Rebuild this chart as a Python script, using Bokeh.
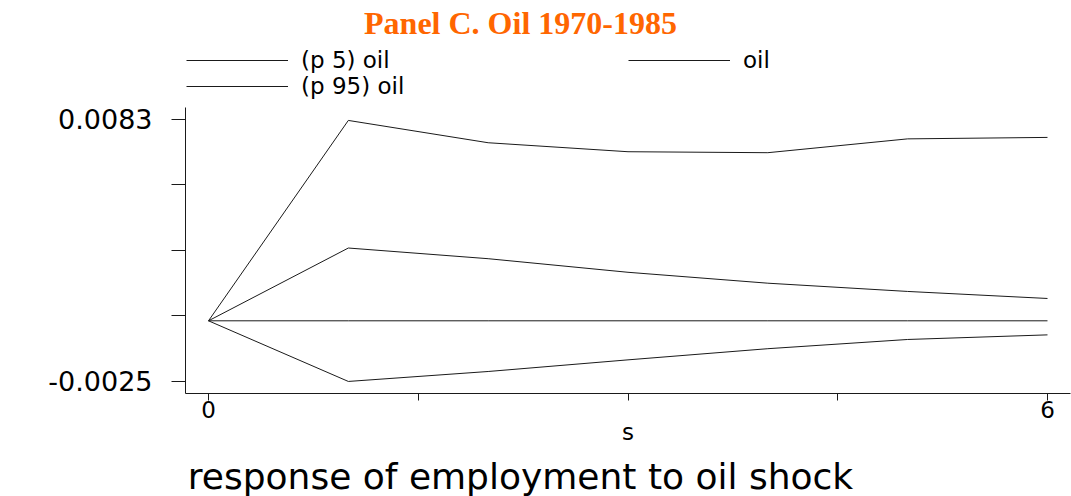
from bokeh.plotting import figure
from bokeh.layouts import column
from bokeh.models import (Label, Legend, LegendItem, FixedTicker, Range1d,
                          ColumnDataSource)
from bokeh.embed import file_html
from bokeh.resources import INLINE

# ---- data ----
steps = [0, 1, 2, 3, 4, 5, 6]
oil = [0.0, 0.00300, 0.00256, 0.00200, 0.00155, 0.00121, 0.00092]
p5_oil = [0.0, -0.00250, -0.00209, -0.00161, -0.00115, -0.00077, -0.00058]
p95_oil = [0.0, 0.00826, 0.00734, 0.00697, 0.00693, 0.00750, 0.00756]
zero_line = [0, 0, 0, 0, 0, 0, 0]

y_ticks = [-0.0025, 0.0002, 0.0029, 0.0056, 0.0083]
y_tick_labels = ["-0.0025", "", "", "", "0.0083"]
x_ticks = [0, 1.5, 3, 4.5, 6]
x_tick_labels = ["0", "", "", "", "6"]

series_labels = ["(p 5) oil", "(p 95) oil", "oil"]
title_text = "Panel C. Oil 1970-1985"
bottom_text = "response of employment to oil shock"
x_label = "s"

INK = "#1a1a1a"
SANS = "DejaVu Sans"
W = 1071


def bare(height):
    f = figure(width=W, height=height, output_backend="svg",
               toolbar_location=None, x_axis_type=None, y_axis_type=None,
               x_range=Range1d(0, 1), y_range=Range1d(0, 1),
               min_border_left=0, min_border_right=0,
               min_border_top=0, min_border_bottom=0)
    f.outline_line_color = None
    f.background_fill_color = "white"
    f.border_fill_color = "white"
    return f


# ---------------- main plot ----------------
src = ColumnDataSource(dict(step=steps, oil=oil, p5=p5_oil, p95=p95_oil,
                            zero=zero_line))

p = figure(width=W, height=353, output_backend="svg", toolbar_location=None,
           x_range=Range1d(-0.1645, 6.1645),
           y_range=Range1d(-0.002997, 0.008793),
           min_border_left=185, min_border_right=1,
           min_border_top=8, min_border_bottom=59)
p.grid.visible = False
p.outline_line_color = None
p.background_fill_color = "white"
p.border_fill_color = "white"

ya = p.yaxis[0]
ya.ticker = FixedTicker(ticks=y_ticks, minor_ticks=[])
ya.major_label_overrides = {t: l for t, l in zip(y_ticks, y_tick_labels)}
ya.major_tick_out = 14
ya.major_tick_in = 0
ya.minor_tick_out = 0
ya.minor_tick_in = 0
ya.major_label_standoff = 19
ya.major_label_text_font = SANS
ya.major_label_text_font_size = "27px"
ya.major_label_text_color = "black"
ya.axis_line_color = INK
ya.major_tick_line_color = INK

xa = p.xaxis[0]
xa.ticker = FixedTicker(ticks=x_ticks, minor_ticks=[])
xa.major_label_overrides = {t: l for t, l in zip(x_ticks, x_tick_labels)}
xa.major_tick_out = 7
xa.major_tick_in = 0
xa.minor_tick_out = 0
xa.minor_tick_in = 0
xa.major_label_standoff = 0
xa.major_label_text_font = SANS
xa.major_label_text_font_size = "23px"
xa.major_label_text_color = "black"
xa.axis_line_color = INK
xa.major_tick_line_color = INK
xa.axis_label = x_label
xa.axis_label_text_font = SANS
xa.axis_label_text_font_style = "normal"
xa.axis_label_text_font_size = "23px"
xa.axis_label_text_color = "black"
xa.axis_label_standoff = -2

p.line("step", "zero", source=src, line_color=INK, line_width=1)
p.line("step", "p5", source=src, line_color=INK, line_width=1)
p.line("step", "oil", source=src, line_color=INK, line_width=1)
p.line("step", "p95", source=src, line_color=INK, line_width=1)

# ---------------- header: title + legend ----------------
header = bare(99)
nan = float("nan")
key_src = ColumnDataSource(dict(x=[nan], y=[nan]))
keys = [header.line("x", "y", source=key_src, line_color=INK, line_width=1)
        for _ in series_labels]
legend = Legend(
    items=[LegendItem(label=lab, renderers=[r])
           for lab, r in zip(series_labels, keys)],
    location=(1, 0), nrows=2, orientation="vertical",
    glyph_width=102, glyph_height=10, label_standoff=13,
    label_width=327, label_height=26, spacing=0, padding=0, margin=0,
    border_line_color=None, background_fill_alpha=0,
    label_text_font=SANS, label_text_font_size="23px",
    label_text_color="black")
header.add_layout(legend, "center")
header.add_layout(Label(x=335, y=77, x_units="screen", y_units="screen",
                        text=title_text, text_align="center",
                        text_baseline="alphabetic",
                        text_font="Liberation Serif", text_font_style="bold",
                        text_font_size="32px", text_color="#ff6600"))

# ---------------- footer: caption ----------------
footer = bare(44)
footer.add_layout(Label(x=335, y=20, x_units="screen", y_units="screen",
                        text=bottom_text, text_align="center",
                        text_baseline="alphabetic", text_font=SANS,
                        text_font_size="36px", text_color="black"))

layout = column(header, p, footer, spacing=0)
open("out.html", "w").write(file_html(layout, INLINE))
